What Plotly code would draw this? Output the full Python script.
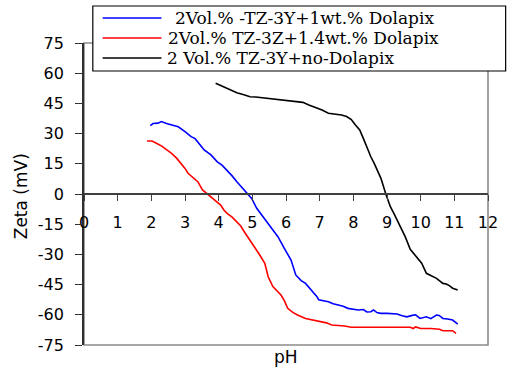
import plotly.graph_objects as go

# ---------------- data ----------------
blue_name = " 2Vol.% -TZ-3Y+1wt.% Dolapix"
red_name = "2Vol.% TZ-3Z+1.4wt.% Dolapix"
black_name = "2 Vol.% TZ-3Y+no-Dolapix"

blue_ph = [1.97, 2.05, 2.2, 2.3, 2.45, 2.6, 2.8, 3.0, 3.18, 3.3, 3.45, 3.57, 3.77, 3.96,
           4.1, 4.25, 4.4, 4.54, 4.74, 4.85, 4.98, 5.13, 5.32, 5.51, 5.76, 5.95, 6.15,
           6.29, 6.45, 6.58, 6.75, 6.92, 6.97, 7.1, 7.26, 7.4, 7.55, 7.7, 7.84, 8.0,
           8.14, 8.3, 8.4, 8.52, 8.6, 8.7, 8.81, 9.0, 9.18, 9.3, 9.45, 9.59, 9.75,
           9.85, 9.98, 10.1, 10.17, 10.3, 10.47, 10.55, 10.66, 10.8, 10.95, 11.1]
blue_zeta = [34, 35, 35.2, 36, 35, 34.3, 33.4, 31, 28.5, 27.5, 24.5, 21.9, 19.4, 16,
             14.3, 11.9, 9, 6.1, 2.3, 0.5, -2.2, -7.1, -11.3, -15.4, -21.2, -27, -32.8,
             -40.2, -43, -44.4, -47.5, -51, -52.5, -52.8, -53.5, -54.5, -55.1, -55.8, -56.8, -57.2,
             -57.6, -57.4, -58.6, -58.5, -57.6, -58.9, -59.3, -59.3, -59.3, -59.6, -60.5, -61, -60.3,
             -60, -61.8, -61.2, -61, -61.9, -60.1, -60.3, -61.8, -62.1, -62.6, -64.6]

red_ph = [1.87, 2.02, 2.15, 2.31, 2.45, 2.6, 2.75, 2.89, 3.0, 3.09, 3.25, 3.38, 3.52, 3.65,
          3.77, 3.9, 4.06, 4.15, 4.25, 4.4, 4.54, 4.65, 4.79, 4.93, 5.13, 5.22, 5.37, 5.42,
          5.47, 5.61, 5.85, 5.95, 6.05, 6.2, 6.34, 6.58, 6.8, 6.97, 7.2, 7.36, 7.55, 7.74,
          7.94, 8.23, 8.5, 9.0, 9.5, 9.69, 9.78, 9.85, 10.0, 10.3, 10.56, 10.66, 10.95, 11.05]
red_zeta = [26.3, 26.3, 25.2, 23.8, 22, 20.2, 17.8, 15.2, 12.7, 10.3, 8.2, 6.1, 2, 0.3,
            -1.3, -3.3, -5.5, -7.8, -9.6, -11.5, -13.7, -15.8, -19.5, -22.9, -27.8, -30.3, -34.4, -38.5,
            -41.1, -46, -50.2, -53, -56.8, -58.8, -60.1, -61.8, -62.5, -63.4, -64, -65.1, -65.3, -65.6,
            -66.2, -66.2, -66.2, -66.2, -66.2, -66.2, -66.8, -66.0, -66.8, -66.8, -67.2, -67.9, -67.9, -69.2]

black_ph = [3.91, 4.1, 4.25, 4.4, 4.54, 4.75, 4.93, 5.1, 5.32, 5.55, 5.81, 6.05, 6.29, 6.5,
            6.68, 6.9, 7.07, 7.26, 7.45, 7.65, 7.8, 7.94, 8.05, 8.19, 8.3, 8.43, 8.52, 8.62,
            8.72, 8.82, 8.96, 9.1, 9.2, 9.3, 9.42, 9.54, 9.69, 9.85, 10.03, 10.17, 10.3, 10.47,
            10.66, 10.76, 10.85, 10.95, 11.1]
black_zeta = [55, 53.6, 52.5, 51.2, 50.3, 49.3, 48.3, 48.2, 47.8, 47.4, 47, 46.5, 46.2, 45.5,
              44.2, 43, 41.7, 40.1, 39.8, 39.2, 38.5, 37, 34.5, 31.8, 27.5, 21.9, 18.5, 15.2,
              11.5, 7.8, 0.3, -6.3, -9.5, -12.9, -17, -21.2, -27.5, -31, -34.4, -39.4, -40.5, -41.9,
              -44.4, -44.7, -45.5, -46.8, -47.7]

x_ticks = list(range(0, 13))
y_ticks = [75, 60, 45, 30, 15, 0, -15, -30, -45, -60, -75]
y_ticktext = ["75", "60", "45", "30", "15", "0", "-15", "-30", "-45", "-60", "-75"]

series = [
    (blue_name, blue_ph, blue_zeta, "#0000FF"),
    (red_name, red_ph, red_zeta, "#FF0000"),
    (black_name, black_ph, black_zeta, "#000000"),
]

# ---------------- layout geometry ----------------
W, H = 510, 371
ML, MR, MT, MB = 84, 14, 43, 26
PW, PH = W - ML - MR, H - MT - MB


def px(xp):
    return (xp - ML) / PW


def py(yp):
    return (H - MB - yp) / PH


fig = go.Figure()
for name, xs, ys, col in series:
    fig.add_trace(go.Scatter(x=xs, y=ys, mode="lines", name=name,
                             line=dict(color=col, width=1.6), showlegend=False))

tick_font = dict(family="DejaVu Sans", size=16, color="#000000")

fig.update_layout(
    width=W, height=H,
    margin=dict(l=ML, r=MR, t=MT, b=MB, pad=0),
    paper_bgcolor="white", plot_bgcolor="white",
    xaxis=dict(range=[0, 12], tickvals=x_ticks, ticks="outside", ticklen=6,
               tickcolor="#404040", tickwidth=1, showline=True, linecolor="#404040",
               linewidth=1.5, showgrid=False, zeroline=False, anchor="free",
               position=0.5, tickfont=tick_font, ticklabelstandoff=8),
    yaxis=dict(range=[-75, 75], tickvals=y_ticks, ticktext=y_ticktext, ticks="outside",
               ticklen=7, tickcolor="#303030", showline=True, linecolor="#303030",
               linewidth=1.8, showgrid=False, zeroline=False, tickfont=tick_font,
               ticklabelstandoff=8),
    showlegend=False,
)

shapes = [
    # plot-area frame (gray)
    dict(type="rect", xref="paper", yref="paper", x0=0, x1=1, y0=0, y1=1,
         line=dict(color="#8a8a8a", width=1.6), layer="below"),
    # legend box
    dict(type="rect", xref="paper", yref="paper", x0=px(93), x1=px(514), y0=py(71), y1=py(6),
         line=dict(color="#000000", width=1.2), fillcolor="white", layer="above"),
]
annotations = []
rows_y = [18, 38, 58]
text_x = [175, 168, 167]
for (name, xs, ys, col), ry, tx in zip(series, rows_y, text_x):
    shapes.append(dict(type="line", xref="paper", yref="paper", x0=px(103), x1=px(163),
                       y0=py(ry), y1=py(ry), line=dict(color=col, width=1.6), layer="above"))
    annotations.append(dict(text=name.strip(), xref="paper", yref="paper", x=px(tx), y=py(ry),
                            xanchor="left", yanchor="middle", showarrow=False,
                            font=dict(family="DejaVu Serif", size=17, color="#000000")))

annotations.append(dict(text="Zeta (mV)", xref="paper", yref="paper", x=px(20), y=py(196),
                        textangle=-90, showarrow=False, xanchor="center", yanchor="middle",
                        font=dict(family="DejaVu Sans", size=17, color="#000000")))
annotations.append(dict(text="pH", xref="paper", yref="paper", x=px(290), y=py(357),
                        showarrow=False, xanchor="center", yanchor="middle",
                        font=dict(family="DejaVu Sans", size=17, color="#000000")))

fig.update_layout(shapes=shapes, annotations=annotations)
fig.write_html("out.html")
